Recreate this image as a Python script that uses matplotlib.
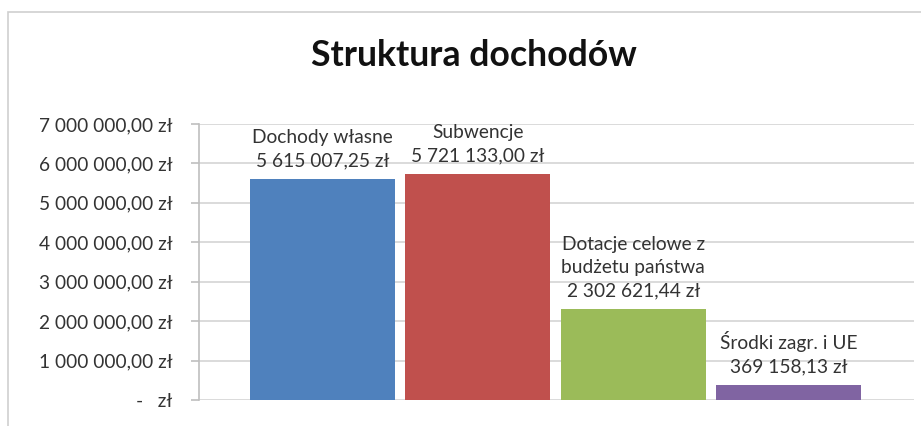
import matplotlib
matplotlib.use("Agg")
import matplotlib.pyplot as plt
from matplotlib.patches import Rectangle
from matplotlib.ticker import FuncFormatter, MultipleLocator

categories = ["Dochody własne", "Subwencje", "Dotacje celowe z\nbudżetu państwa", "Środki zagr. i UE"]
values = [5615007.25, 5721133.00, 2302621.44, 369158.13]
colors = ["#4F81BD", "#C0504D", "#9BBB59", "#8064A2"]
title = "Struktura dochodów"

plt.rcParams['font.family'] = ['Lato', 'DejaVu Sans']

W, H = 921, 426
fig = plt.figure(figsize=(W / 100, H / 100), dpi=100)
fig.patch.set_facecolor("white")

# chart frame
fig.patches.append(Rectangle((8 / W, -0.1), 1.2, 1 - 12 / H + 0.1, transform=fig.transFigure,
                             fill=False, edgecolor="#cfcfcf", linewidth=1.2))

ax = fig.add_axes([199 / W, 1 - 400 / H, (914 - 199) / W, 276 / H])


def fmt_pl(v):
    s = f"{v:,.2f}".replace(",", " ").replace(".", ",")
    return s + " zł"


def tick_fmt(v, pos):
    if abs(v) < 1e-6:
        return "-   zł"
    return fmt_pl(v)


x = list(range(len(values)))
ax.bar(x, values, width=0.932, color=colors, zorder=3)

ax.set_ylim(0, 7000000)
ax.set_xlim(-0.794, 3.807)
ax.yaxis.set_major_locator(MultipleLocator(1000000))
ax.yaxis.set_major_formatter(FuncFormatter(tick_fmt))
ax.set_xticks([])
ax.grid(axis="y", color="#d4d4d4", linewidth=1.2, zorder=0)
for s in ["top", "right", "bottom"]:
    ax.spines[s].set_visible(False)
ax.spines["left"].set_color("#bfbfbf")
ax.spines["left"].set_linewidth(1.2)
ax.tick_params(axis="y", length=6, color="#bfbfbf", width=1.2, pad=13,
               labelsize=13.8, labelcolor="#333333")

for xi, v, c in zip(x, values, categories):
    ax.annotate(c + "\n" + fmt_pl(v), xy=(xi, v), xytext=(0, 7), textcoords="offset points",
                ha="center", va="bottom", fontsize=13.8, color="#333333", linespacing=1.45)

fig.text(474 / W, 1 - 55 / H, title, ha="center", va="center", fontsize=25.7,
         fontweight="bold", color="#111111")

fig.savefig("out.png", dpi=100)
